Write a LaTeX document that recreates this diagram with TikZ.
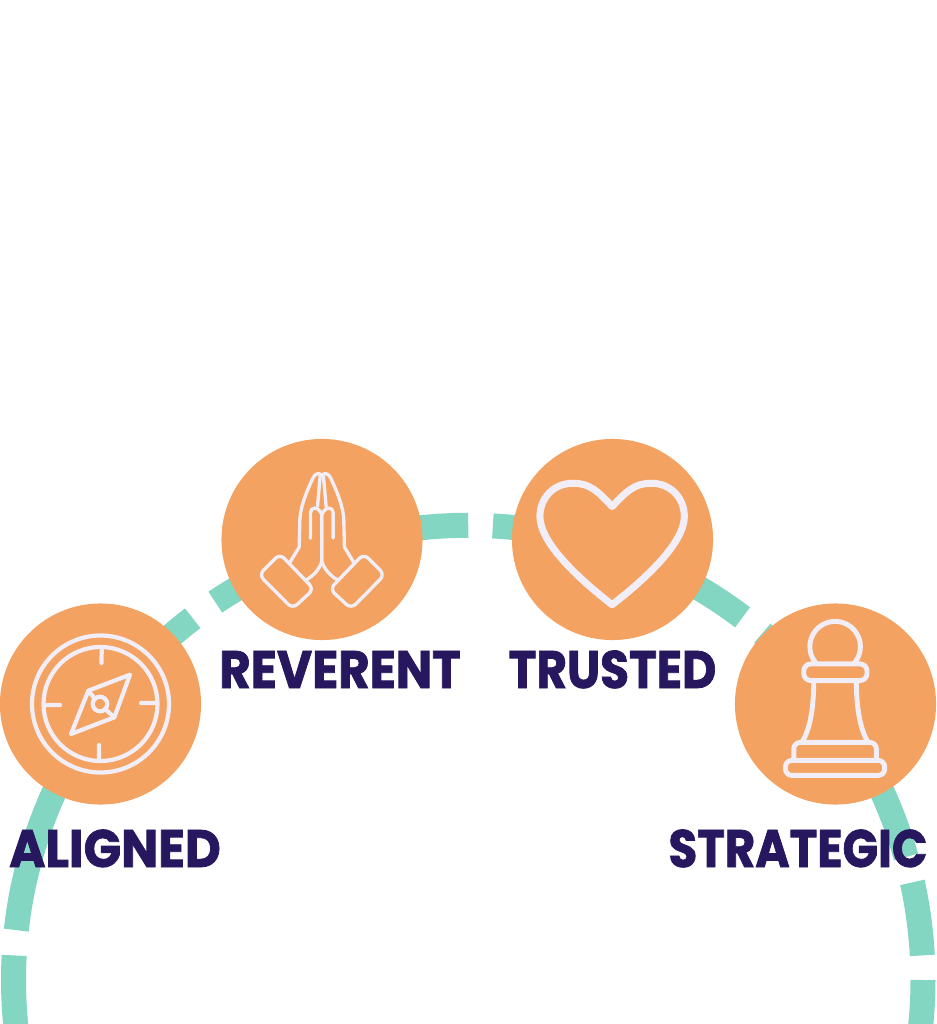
\documentclass[tikz,border=0pt]{standalone}
\usepackage{fontspec}
\newfontfamily\labelfont[BoldFeatures={FakeBold=1.5}]{Poppins}
\definecolor{dashteal}{HTML}{82D6C2}
\definecolor{badgeorange}{HTML}{F4A261}
\definecolor{labelnavy}{HTML}{27175F}
\definecolor{iconwhite}{HTML}{F1EEF8}
\tikzset{
  badge/.style={circle,fill=badgeorange,minimum size=2.01cm,inner sep=0pt},
  word/.style={text=labelnavy,font=\labelfont\bfseries\fontsize{15pt}{15pt}\selectfont,inner sep=0pt,anchor=base,transform shape},
  icon/.style={draw=iconwhite,line join=round,line cap=round},
  zoomed/.style={x=0.003333cm,y=-0.003333cm}
}

\begin{document}
\begin{tikzpicture}[x=0.01cm,y=-0.01cm]
    \clip (0,0) rectangle (936,1024);
    % dashed ring
    \foreach \a/\b in {176.9/186,173.7/127.3,123.8/90,86.9/52.9,49.7/15.7,12.4/3.1,0/-6}
      \draw[dashteal,line width=7.11pt,domain=\a:\b,samples=40]
        plot ({468.25+454.75*cos(\x)},{980-454.75*sin(\x)});
    % badges
    \node[badge] (aligned) at (100.5,704) {};
    \node[badge] (reverent) at (322,539.5) {};
    \node[badge] (trusted) at (612.5,539.5) {};
    \node[badge] (strategic) at (835.5,704) {};
    % labels
    \node[word,xscale=0.935] (alignedtext) at (115,867) {ALIGNED};
    \node[word,xscale=0.915] (reverenttext) at (340,688) {REVERENT};
    \node[word,xscale=0.89] (trustedtext) at (612.5,688) {TRUSTED};
    \node[word,xscale=0.885] (strategictext) at (798,867) {STRATEGIC};
    % compass
    \draw[icon,line width=1.2pt] (aligned) circle (68.5);
    \draw[icon,line width=1.2pt] (aligned) circle (57);
    \draw[icon,line width=1.2pt] (101.7,650) -- (101.5,663) (99,745) -- (99,759)
      (45,705) -- (60,705) (141,703) -- (156,703);
    \draw[icon,line width=1.2pt] (130,674.7) -- (114.3,717.3) -- (71,734) -- (88.3,690.7) -- cycle;
    \draw[icon,line width=1.2pt] (100,704) circle (7.3);
    \draw[icon,line width=1.2pt] (88.3,690.7) -- (95,699) (105.2,709.2) -- (114.3,717.3);
    % praying hands
    \begin{scope}[shift={(210,430)},zoomed]
      \foreach \s in {1,-1} {
        \begin{scope}[shift={(336,0)},xscale=\s,shift={(-336,0)}]
          \draw[icon,line width=0.95pt] (240,398) -- (268,352) -- (270,268)
            .. controls (272,230) and (290,185) .. (310,143)
            .. controls (316,130) and (328,128) .. (336,136);
          \draw[icon,line width=0.95pt] (336,250) -- (336,395)
            .. controls (328,420) and (310,438) .. (290,450);
          \draw[icon,line width=0.95pt] (331,140) -- (323,230);
          \draw[icon,line width=0.95pt] (302,325) -- (302,248)
            .. controls (302,232) and (325,226) .. (336,255);
          \draw[icon,line width=0.95pt,rounded corners=1.8pt] (210,372) -- (147,435) -- (248,537) -- (312,478) -- cycle;
        \end{scope}
      }
    \end{scope}
    % heart
    \begin{scope}[shift={(490,430)},zoomed]
      \draw[icon,line width=2pt] (367,230)
        .. controls (325,185) and (300,160) .. (250,160)
        .. controls (190,160) and (150,205) .. (150,260)
        .. controls (150,340) and (270,450) .. (367,525)
        .. controls (464,450) and (584,340) .. (584,260)
        .. controls (584,205) and (544,160) .. (484,160)
        .. controls (434,160) and (409,185) .. (367,230) -- cycle;
    \end{scope}
    % pawn
    \begin{scope}[shift={(660,600)},zoomed]
      \draw[icon,line width=1.4pt] (468,189) arc[start angle=140,end angle=400,radius=76];
      \draw[icon,line width=1.4pt,rounded corners=2pt] (432,192) rectangle (622,242);
      \draw[icon,line width=1.4pt] (462,242) .. controls (462,320) and (452,385) .. (428,425);
      \draw[icon,line width=1.4pt] (590,242) .. controls (590,320) and (600,385) .. (624,425);
      \draw[icon,line width=1.4pt,rounded corners=1.8pt] (402,475) -- (402,428) -- (650,428) -- (650,475);
      \draw[icon,line width=1.4pt,rounded corners=1.8pt] (377,527) -- (377,482) -- (675,482) -- (675,527) -- cycle;
    \end{scope}
\end{tikzpicture}
\end{document}
